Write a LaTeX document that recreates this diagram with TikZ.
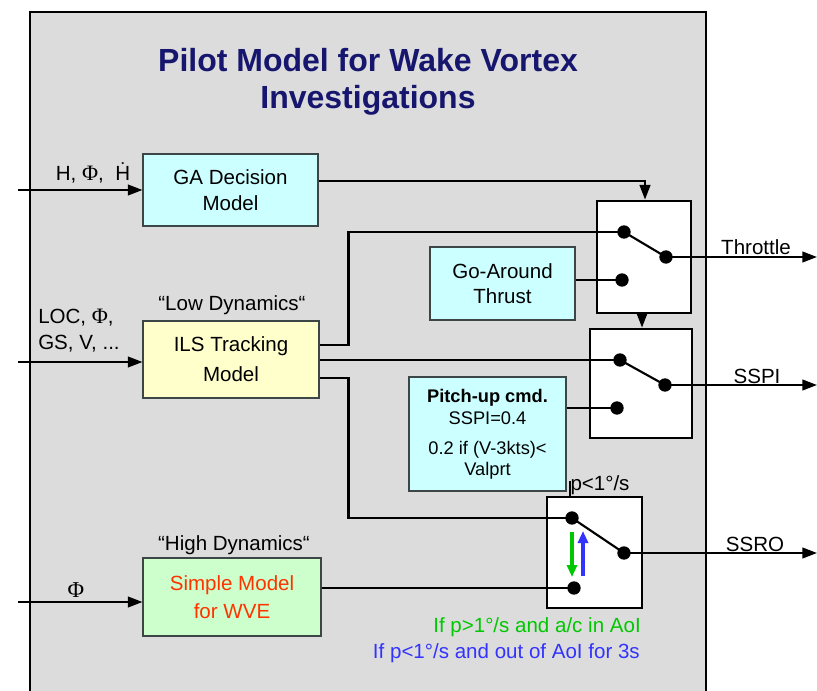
\documentclass[tikz,border=0pt]{standalone}
\usepackage{fontspec}
\setmainfont{Liberation Sans}
\newfontfamily\serf{Liberation Serif}
\usetikzlibrary{arrows.meta,calc}
\definecolor{panelgray}{RGB}{220,220,220}
\definecolor{titleblue}{RGB}{22,22,110}
\definecolor{cyanfill}{RGB}{204,255,255}
\definecolor{yellowfill}{RGB}{255,255,204}
\definecolor{greenfill}{RGB}{204,255,204}
\definecolor{redtext}{RGB}{255,51,0}
\definecolor{greenarr}{RGB}{0,200,0}
\definecolor{bluearr}{RGB}{51,51,255}
\definecolor{boxline}{RGB}{60,70,70}
\begin{document}
\begin{tikzpicture}[x=0.75pt,y=-0.75pt,
  mbox/.style={draw=boxline,line width=0.8pt,inner sep=0pt,align=center,
    font=\fontsize{15.4}{19.5}\selectfont},
  swbox/.style={draw=black,fill=white,line width=2.1pt,inner sep=0pt},
  conn/.style={line width=1.6pt},
  arr/.style={line width=1.6pt,-{Triangle[length=11pt,width=8pt]}},
  dot/.style={circle,fill=black,inner sep=0pt,minimum size=10pt},
  lbl/.style={font=\fontsize{15.4}{19}\selectfont,inner sep=0pt},
  phi/.style={font=\fontsize{17}{19}\selectfont\serf},
  ]
\useasboundingbox (0,0) rectangle (817,691);
% panel
\draw[fill=panelgray,line width=1.8pt] (30,12) rectangle (706,720);
% title
\node[font=\fontsize{24}{27.75}\selectfont\bfseries,text=titleblue,align=center] (title) at (368,82)
  {Pilot Model for Wake Vortex\\Investigations};
% boxes
\node[mbox,fill=cyanfill,minimum width=131.25pt,minimum height=54pt] (GA) at (230.5,190) {GA Decision\\Model};
\node[mbox,fill=yellowfill,minimum width=132pt,minimum height=57.75pt,font=\fontsize{15.4}{22.5}\selectfont] (ILS) at (231,359.5) {ILS Tracking\\Model};
\node[mbox,fill=greenfill,minimum width=133.5pt,minimum height=58.5pt,text=redtext,font=\fontsize{15.4}{21.5}\selectfont] (SM) at (232,597) {Simple Model\\for WVE};
\node[mbox,fill=cyanfill,minimum width=108.75pt,minimum height=54.75pt,font=\fontsize{15.4}{18.75}\selectfont] (GAT) at (502.5,283.5) {Go-Around\\Thrust};
\node[mbox,fill=cyanfill,minimum width=117.75pt,minimum height=85.5pt,font=\fontsize{13.7}{17}\selectfont] (PU) at (487.5,434)
  {\textbf{Pitch-up cmd.}\\SSPI=0.4\\[5pt]0.2 if (V-3kts)<\\[-1pt]Valprt};
% switches
\node[swbox,minimum width=70.5pt,minimum height=84pt] (S1) at (644,257) {};
\node[swbox,minimum width=76.5pt,minimum height=81.75pt] (S2) at (641,383.5) {};
\node[swbox,minimum width=71.25pt,minimum height=83.25pt] (S3) at (594.5,552.5) {};
% labels
\node[lbl] (lblA) at (93,173) {H, {\fontsize{16.5}{19}\selectfont\serf Φ}, \ \.H};
\node[lbl,anchor=west,align=left,font=\fontsize{15.4}{19.5}\selectfont] (lblB) at (38,331) {LOC, {\fontsize{16.5}{19}\selectfont\serf Φ},\\GS, V, ...};
\node[lbl,phi] (lblC) at (76,590) {Φ};
\node[lbl] (lblLow) at (232,305) {“Low Dynamics“};
\node[lbl] (lblHigh) at (234,545) {“High Dynamics“};
\node[lbl] (lblThr) at (756,247) {Throttle};
\node[lbl] (lblSSPI) at (757,376) {SSPI};
\node[lbl] (lblSSRO) at (755,544) {SSRO};
\node[lbl] (lblP) at (600,485) {p<1°/s};
\node[lbl,anchor=east,text=greenarr] (lblG) at (641,627) {If p>1°/s and a/c in AoI};
\node[lbl,anchor=east,text=bluearr] (lblBl) at (640,653) {If p<1°/s and out of AoI for 3s};
% input coordinates
\coordinate (in1) at (18,190);
\coordinate (in2) at (18,362);
\coordinate (in3) at (18,602);
\coordinate (out1) at (817,257);
\coordinate (out2) at (817,385);
\coordinate (out3) at (817,553);
% connectors
\draw[arr] (in1) -- (GA.west |- in1);
\draw[arr] (in2) -- (ILS.west |- in2);
\draw[arr] (in3) -- (SM.west |- in3);
\draw[arr] ([yshift=6.75pt]GA.east) -| ([xshift=0.75pt]S1.north);
\draw[arr] ([xshift=-1.5pt]S1.south) -- ([xshift=-1.5pt]S1.south |- S2.north);
% dots
\node[dot] (s1a) at (624,232) {};
\node[dot] (s1o) at (666,257) {};
\node[dot] (s1b) at (622,280) {};
\node[dot] (s2a) at (620,360) {};
\node[dot] (s2o) at (665,385) {};
\node[dot] (s2b) at (617,408) {};
\node[dot] (s3a) at (572,518) {};
\node[dot] (s3o) at (624,553) {};
\node[dot] (s3b) at (574,588) {};
% lines into switches
\draw[conn] ([yshift=10.9pt]ILS.east) -- ++(29,0) |- (s1a.center);
\draw[conn] (ILS.east |- s2a) -- (s2a.center);
\draw[conn] ([yshift=-13.9pt]ILS.east) -- ++(29,0) |- (s3a.center);
\draw[conn] (GAT.east |- s1b) -- (s1b.center);
\draw[conn] (PU.east |- s2b) -- (s2b.center);
\draw[conn] (SM.east |- s3b) -- (s3b.center);
% switch arms
\draw[conn] (s1a.center) -- (s1o.center);
\draw[conn] (s2a.center) -- (s2o.center);
\draw[conn] (s3a.center) -- (s3o.center);
% outputs
\draw[arr] (s1o.center) -- (out1);
\draw[arr] (s2o.center) -- (out2);
\draw[arr] (s3o.center) -- (out3);
% small tick near p label
\coordinate (tk) at (570,481);
\draw[line width=0.8pt] (tk) -- (tk |- S3.north);
% colored arrows
\coordinate (ga1) at (572,532);
\coordinate (ga2) at (572,577);
\coordinate (ba1) at (583,576);
\coordinate (ba2) at (583,531);
\draw[greenarr,line width=2.6pt,-{Triangle[length=9pt,width=7.5pt]}] (ga1) -- (ga2);
\draw[bluearr,line width=2.6pt,-{Triangle[length=9pt,width=7.5pt]}] (ba1) -- (ba2);
\end{tikzpicture}
\end{document}
